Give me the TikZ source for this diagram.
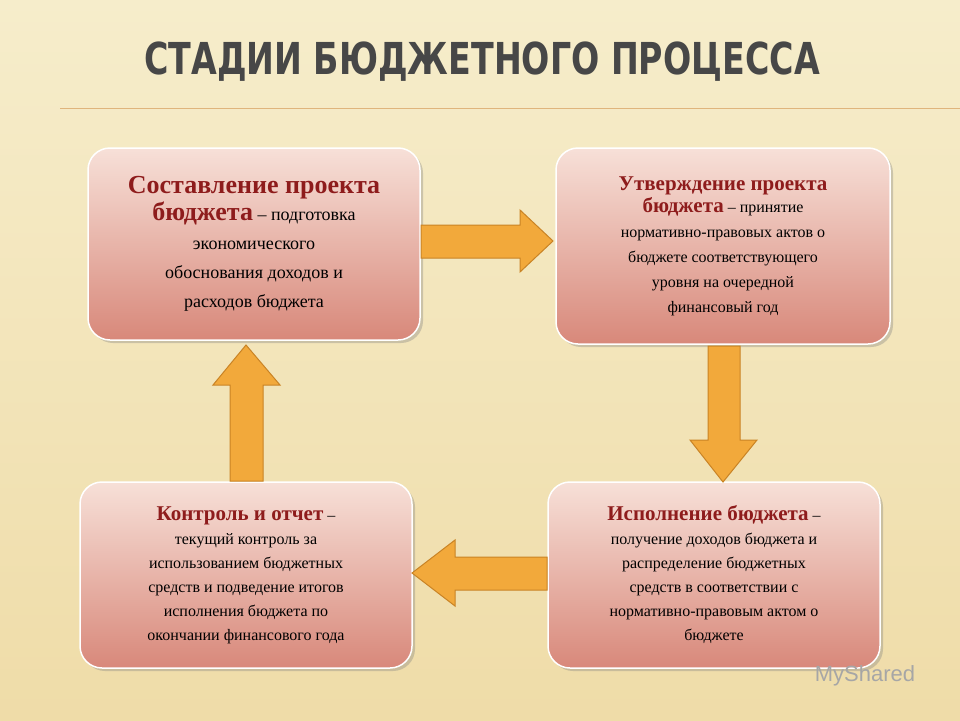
\documentclass[tikz,border=0pt]{standalone}
\usepackage{fontspec}
\setmainfont{Liberation Serif}
\newfontfamily\titlefont{DejaVu Sans Condensed}
\newfontfamily\wmfont{Liberation Sans}
\usetikzlibrary{shadows}
\definecolor{bgA}{HTML}{F6EDCB}
\definecolor{bgB}{HTML}{EFDCA8}
\definecolor{boxtop}{HTML}{F7E0D8}
\definecolor{boxbot}{HTML}{D8887A}
\definecolor{hd}{HTML}{8E1C1C}
\definecolor{arr}{HTML}{F2A93B}
\definecolor{arrd}{HTML}{C98325}
\tikzset{
 stage/.style={draw=white,line width=1.5pt,rounded corners=22pt,top color=boxtop,bottom color=boxbot,
   drop shadow={opacity=0.35,shadow xshift=3pt,shadow yshift=-3pt},
   align=center,font=\fontsize{18}{29}\selectfont,text=black,inner sep=6pt},
 bigarr/.style={draw=arrd,line width=1pt,fill=arr,line join=miter}
}
\newcommand{\hdA}[1]{{\fontsize{26}{28}\selectfont\bfseries\textcolor{hd}{#1}}}
\newcommand{\hdB}[1]{{\fontsize{21}{23}\selectfont\bfseries\textcolor{hd}{#1}}}
\begin{document}
\begin{tikzpicture}[x=1pt,y=-1pt]
\useasboundingbox (0,0) rectangle (960,720);
\shade[top color=bgA,bottom color=bgB] (0,0) rectangle (960,720);
\draw[color=arrd!60,line width=1pt] (60,108) -- (960,108);
\node[font=\titlefont\bfseries\fontsize{44}{46}\selectfont,text=black!72,xscale=0.84,transform shape,
  anchor=center] (title) at (482,62) {СТАДИИ БЮДЖЕТНОГО ПРОЦЕССА};

\node[stage,minimum width=332pt,minimum height=192pt] (s1) at (254,244) {%
 \hdA{Составление проекта}\\[-2pt]
 \hdA{бюджета} – подготовка\\экономического\\обоснования доходов и\\расходов бюджета};
\node[stage,minimum width=334pt,minimum height=196pt,font=\fontsize{16}{25}\selectfont] (s2) at (723,246) {%
 \hdB{Утверждение проекта}\\[-3pt]
 \hdB{бюджета} – принятие\\нормативно-правовых актов о\\бюджете соответствующего\\уровня на очередной\\финансовый год};
\node[stage,minimum width=332pt,minimum height=186pt,font=\fontsize{16}{24}\selectfont] (s3) at (714,575) {%
 \hdB{Исполнение бюджета} –\\получение доходов бюджета и\\распределение бюджетных\\средств в соответствии с\\нормативно-правовым актом о\\бюджете};
\node[stage,minimum width=332pt,minimum height=186pt,font=\fontsize{16}{24}\selectfont] (s4) at (246,575) {%
 \hdB{Контроль и отчет} –\\текущий контроль за\\использованием бюджетных\\средств и подведение итогов\\исполнения бюджета по\\окончании финансового года};

\draw[bigarr] (421,225) -- (520,225) -- (520,210) -- (553,241) -- (520,272) -- (520,258) -- (421,258) -- cycle;
\draw[bigarr] (708,346) -- (740,346) -- (740,440) -- (757,440) -- (723,482) -- (690,440) -- (708,440) -- cycle;
\draw[bigarr] (547,557) -- (455,557) -- (455,540) -- (412,573) -- (455,606) -- (455,590) -- (547,590) -- cycle;
\draw[bigarr] (230,481) -- (230,385) -- (213,385) -- (246,345) -- (280,385) -- (263,385) -- (263,481) -- cycle;

\node[font=\wmfont\fontsize{22}{24}\selectfont,text=black!35] (wm) at (865,676) {MyShared};
\end{tikzpicture}
\end{document}
